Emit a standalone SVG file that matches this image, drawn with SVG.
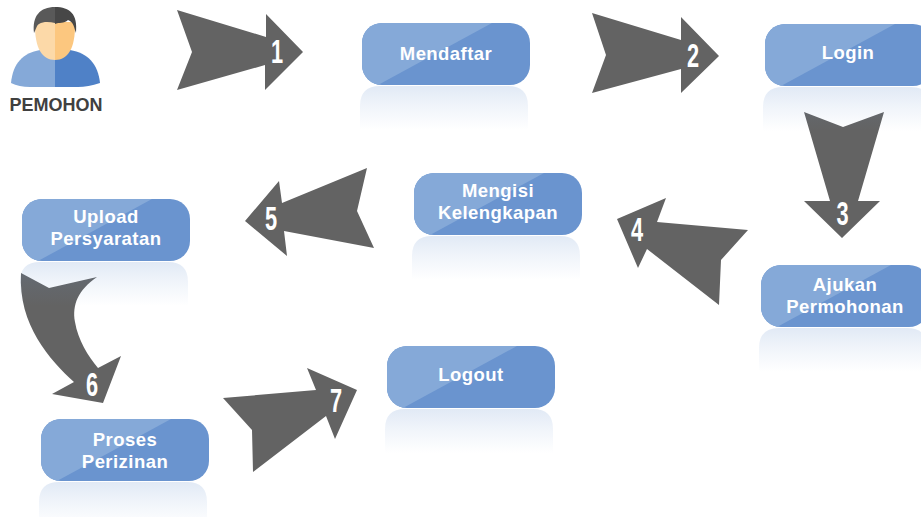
<svg xmlns="http://www.w3.org/2000/svg" width="921" height="517" viewBox="0 0 921 517">
<style>
.box{fill:#6a94cf}
.sheen{fill:#85a9d8}
.lbl{font:bold 18.5px "Liberation Sans",Arial,sans-serif;fill:#fff;text-anchor:middle;letter-spacing:.45px}
.arr{fill:#636363}
.num{font:bold 34px "Liberation Sans",sans-serif;fill:#fff;text-anchor:middle}
</style>
<defs>
<linearGradient id="refl" x1="0" y1="0" x2="0" y2="1">
<stop offset="0" stop-color="#6a94cf" stop-opacity=".2"/>
<stop offset=".45" stop-color="#6a94cf" stop-opacity=".1"/>
<stop offset="1" stop-color="#6a94cf" stop-opacity="0"/>
</linearGradient>
<clipPath id="bc"><rect x="0" y="0" width="168" height="62" rx="20"/></clipPath>
<g id="nodeShape">
<path d="M-2 107V83Q-2 63 18 63H146Q166 63 166 83V107z" fill="url(#refl)"/>
<rect x="0" y="0" width="168" height="62" rx="20" class="box"/>
<path d="M0 0H130L16 62H0z" class="sheen" clip-path="url(#bc)"/>
</g>
</defs>

<g id="connectors">
<g id="arrow1"><path class="arr" d="M177 10L266 37V14L303 52L265 90V65L177 90L192 52z"/><text class="num" transform="translate(277 63) scale(.64 1)">1</text></g>
<g id="arrow2"><path class="arr" d="M592 13L681 40V17L719 56L681 93V69L592 93L606 55z"/><text class="num" transform="translate(693 67) scale(.64 1)">2</text></g>
<g id="arrow3"><path class="arr" d="M804 112L843 127L884 112L858 201H880L842 238L804 201H830z"/><text class="num" transform="translate(842.500 225) scale(.64 1)">3</text></g>
<g id="arrow4"><path class="arr" d="M617 219L666 198L657 222L748 230L721 260L719 305L647 249L638 268z"/><text class="num" transform="translate(637 241) scale(.64 1)">4</text></g>
<g id="arrow5"><path class="arr" d="M245 221L279 181L282 203L367 168L357 211L374 248L284 231L287 256z"/><text class="num" transform="translate(271 230) scale(.64 1)">5</text></g>
<g id="arrow6"><path class="arr" d="M21 273L49 288L97 277C78 290 72 305 75 322C78 340 88 356 98 368L121 356L103 403L52 394L74 382C50 360 18 325 21 273z"/><text class="num" transform="translate(92 396) scale(.64 1)">6</text></g>
<g id="arrow7"><path class="arr" d="M223 398L316 390L307 368L357 390L335 439L326 416L253 472L252 430z"/><text class="num" transform="translate(336 412) scale(.64 1)">7</text></g>
</g>

<g id="pemohon">
<path d="M11 83C13 63 23 53 40 50H55V87L30 87Q19 87 11 83z" fill="#85a9d8"/>
<path d="M55 50H70C88 53 98 64 100 83Q88 87 78 87H55z" fill="#4f81c7"/>
<path d="M35 26C35 48 42 60 55 60V22H35z" fill="#fcd9a8"/>
<path d="M75 26C75 48 68 60 55 60V22H75z" fill="#fcc77f"/>
<path d="M34 33C32 16 40 7 55 7V23C50 22 44 21 39 24C36 26 36 30 34 33z" fill="#595959"/>
<path d="M55 7C70 7 78 14 76 33C74 28 74 22 68 20C64 24 59 22 55 24z" fill="#474747"/>
<text x="56" y="110.500" style="font:bold 18px 'Liberation Sans',sans-serif;fill:#404040;text-anchor:middle">PEMOHON</text>
</g>

<g id="mendaftar"><use href="#nodeShape" x="362" y="23"/><text class="lbl" x="446" y="60">Mendaftar</text></g>
<g id="login"><use href="#nodeShape" x="765" y="24"/><text class="lbl" x="848" y="59">Login</text></g>
<g id="ajukan"><use href="#nodeShape" x="761" y="265"/><text class="lbl" x="845" y="291">Ajukan</text><text class="lbl" x="845" y="313">Permohonan</text></g>
<g id="mengisi"><use href="#nodeShape" x="414" y="173"/><text class="lbl" x="498" y="197">Mengisi</text><text class="lbl" x="498" y="219">Kelengkapan</text></g>
<g id="upload"><use href="#nodeShape" x="22" y="199"/><text class="lbl" x="106" y="223">Upload</text><text class="lbl" x="106" y="245">Persyaratan</text></g>
<g id="proses"><use href="#nodeShape" x="41" y="419"/><text class="lbl" x="125" y="446">Proses</text><text class="lbl" x="125" y="468">Perizinan</text></g>
<g id="logout"><use href="#nodeShape" x="387" y="346"/><text class="lbl" x="471" y="381">Logout</text></g>
</svg>
